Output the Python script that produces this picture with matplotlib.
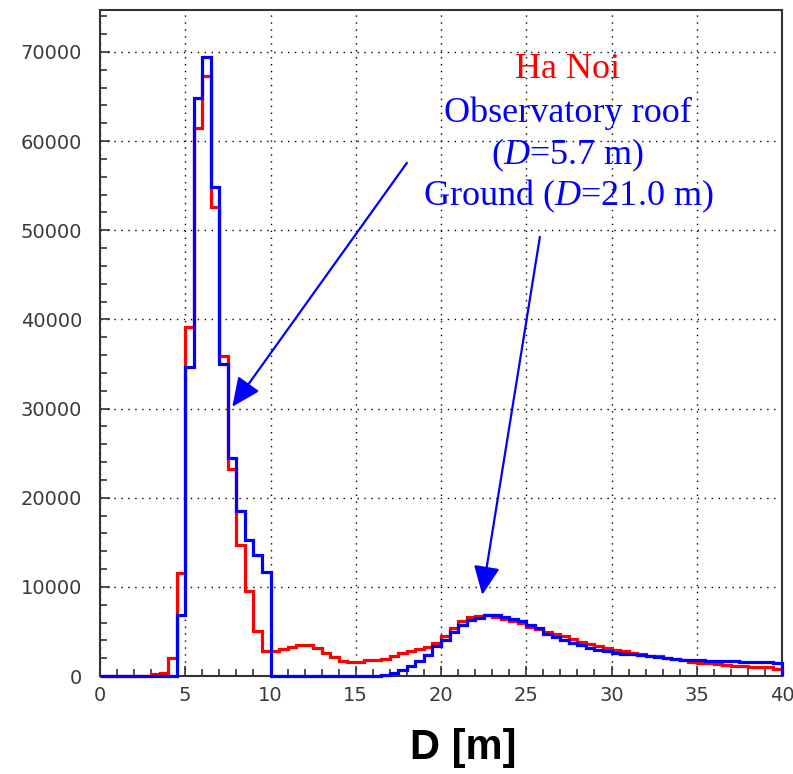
import numpy as np
import matplotlib
matplotlib.use("Agg")
import matplotlib.pyplot as plt
from matplotlib.ticker import MultipleLocator

plt.rcParams['mathtext.fontset'] = 'custom'
plt.rcParams['mathtext.rm'] = 'Liberation Serif'
plt.rcParams['mathtext.it'] = 'Liberation Serif:italic'

# histogram bins: 0..40 m, 0.5 m wide
edges = np.linspace(0, 40, 81)

# Ha Noi, observatory roof (red)
roof = [0, 0, 0, 0, 0, 30, 190, 300, 2000, 11500,
        39200, 61500, 67250, 52600, 35850, 23250, 14650, 9550, 5050, 2850,
        2750, 3050, 3280, 3450, 3450, 3110, 2620, 2170, 1720, 1570,
        1570, 1760, 1760, 1950, 2250, 2550, 2850, 3000, 3300, 3750,
        4490, 5360, 6180, 6670, 6780, 6890, 6590, 6400, 6140, 5920,
        5550, 5220, 4930, 4670, 4440, 4110, 3810, 3560, 3330, 3190,
        2960, 2780, 2630, 2440, 2260, 2190, 2070, 1960, 1780, 1590,
        1480, 1410, 1330, 1260, 1150, 1070, 1040, 960, 960, 810]

# ground (blue)
ground = [0, 0, 0, 0, 0, 0, 0, 0, 0, 6800,
          34700, 64850, 69450, 54800, 35000, 24500, 18550, 15200, 13550, 11650,
          0, 0, 0, 0, 0, 0, 0, 0, 0, 0,
          0, 0, 0, 150, 300, 670, 1160, 1690, 2360, 3410,
          4040, 4980, 5730, 6290, 6550, 6890, 6820, 6670, 6370, 6140,
          5750, 5330, 4740, 4370, 4000, 3740, 3520, 3150, 2890, 2810,
          2590, 2520, 2440, 2300, 2220, 2110, 2000, 1930, 1850, 1810,
          1780, 1700, 1700, 1670, 1670, 1590, 1560, 1560, 1560, 1410]

fig = plt.figure(figsize=(7.93, 7.74), dpi=100)
ax = fig.add_axes([100/793, 1 - 676/774, 682/793, 666/774])

ax.stairs(roof, edges, color='#ff0000', lw=2.3, clip_on=False, zorder=3)
ax.stairs(ground, edges, color='#0000ff', lw=2.3, clip_on=False, zorder=4)

ax.set_xlim(0, 40)
ax.set_ylim(0, 74700)
ax.xaxis.set_major_locator(MultipleLocator(5))
ax.xaxis.set_minor_locator(MultipleLocator(1))
ax.yaxis.set_major_locator(MultipleLocator(10000))
ax.yaxis.set_minor_locator(MultipleLocator(2000))
ax.tick_params(which='both', direction='in', top=False, right=False,
               color='#333333', width=1.2)
ax.tick_params(which='major', length=7)
ax.tick_params(which='minor', length=5)
ax.tick_params(axis='y', labelsize=14, pad=13, labelcolor='#3a3a3a')
ax.tick_params(axis='x', labelsize=14, pad=7, labelcolor='#3a3a3a')
for s in ax.spines.values():
    s.set_color('#333333')
    s.set_linewidth(1.5)

ax.grid(True, which='major', color='black', linestyle=(0, (1, 4)), lw=1)

fig.text(463/793, 1 - 748/774, 'D [m]', family='Liberation Sans',
         fontweight='bold', fontsize=30, ha='center', va='center')

tx = 0.686
ax.text(tx, 0.898, 'Ha Noi', color='#ff0000', transform=ax.transAxes,
        family='Liberation Serif', fontsize=26, ha='center', va='baseline')
ax.text(tx, 0.832, 'Observatory roof', color='#0000ff', transform=ax.transAxes,
        family='Liberation Serif', fontsize=26, ha='center', va='baseline')
ax.text(tx, 0.769, '($D$=5.7 m)', color='#0000ff', transform=ax.transAxes,
        family='Liberation Serif', fontsize=26, ha='center', va='baseline')
ax.text(tx, 0.707, 'Ground ($D$=21.0 m)', color='#0000ff', transform=ax.transAxes,
        family='Liberation Serif', fontsize=26, ha='center', va='baseline')

arrow = dict(arrowstyle='-|>,head_length=0.55,head_width=0.25', color='#0000ff',
             lw=1.6, mutation_scale=32, shrinkA=0, shrinkB=0)
ax.annotate('', xy=(7.76, 30200), xytext=(18.0, 57550), arrowprops=arrow, zorder=5)
ax.annotate('', xy=(22.42, 9100), xytext=(25.8, 49250), arrowprops=arrow, zorder=5)

fig.savefig('out.png', dpi=100)
